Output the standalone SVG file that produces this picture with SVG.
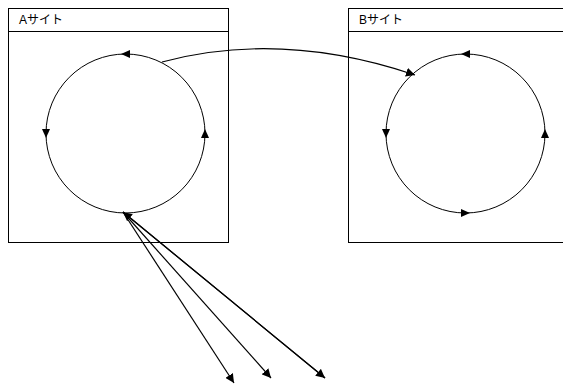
<svg xmlns="http://www.w3.org/2000/svg" width="563" height="385" viewBox="0 0 563 385">
<style>
.box{fill:#fff;stroke:#000;stroke-width:1}
.lbl{font-family:"Liberation Sans","Noto Sans CJK JP",sans-serif;font-size:12px;fill:#000}
.ring{fill:none;stroke:#000;stroke-width:1}
.edge{fill:none;stroke:#000;stroke-width:1.2}
.tri{fill:#000}
</style>
<defs>
<marker id="ah" viewBox="0 0 10 10" refX="10" refY="5" markerWidth="9" markerHeight="9" markerUnits="userSpaceOnUse" orient="auto">
<path d="M0,0 L10,5 L0,10 z" fill="#000"/>
</marker>
</defs>
<g id="siteA">
<rect class="box" x="8.5" y="8.5" width="220" height="234"/>
<line x1="8.5" y1="31.5" x2="228.5" y2="31.5" stroke="#000"/>
<text class="lbl" x="19" y="24">Aサイト</text>
<circle class="ring" cx="125.5" cy="133.5" r="79.5"/>
<path class="tri" d="M121,54 L130,50 L130,58 z"/>
<path class="tri" d="M46,138 L42,129 L50,129 z"/>
<path class="tri" d="M205,129 L201,138 L209,138 z"/>
</g>
<g id="siteB">
<rect class="box" x="348.5" y="8.5" width="230" height="234"/>
<line x1="348.5" y1="31.5" x2="578" y2="31.5" stroke="#000"/>
<text class="lbl" x="359" y="24">Bサイト</text>
<circle class="ring" cx="465.5" cy="133.5" r="79.5"/>
<path class="tri" d="M461,54 L470,50 L470,58 z"/>
<path class="tri" d="M386,138 L382,129 L390,129 z"/>
<path class="tri" d="M545,129 L541,138 L549,138 z"/>
<path class="tri" d="M470,213 L461,209 L461,217 z"/>
</g>
<g id="connectors">
<path class="edge" d="M162,62 Q281,30 415,75" marker-end="url(#ah)"/>
<path class="edge" d="M123,212 L234,383" marker-end="url(#ah)"/>
<path class="edge" d="M123,212 L271,378" marker-end="url(#ah)"/>
<path class="edge" d="M123,212 L325,378" marker-end="url(#ah)"/>
<path class="edge" d="M325,378 L123,212" marker-end="url(#ah)"/>
</g>
</svg>
